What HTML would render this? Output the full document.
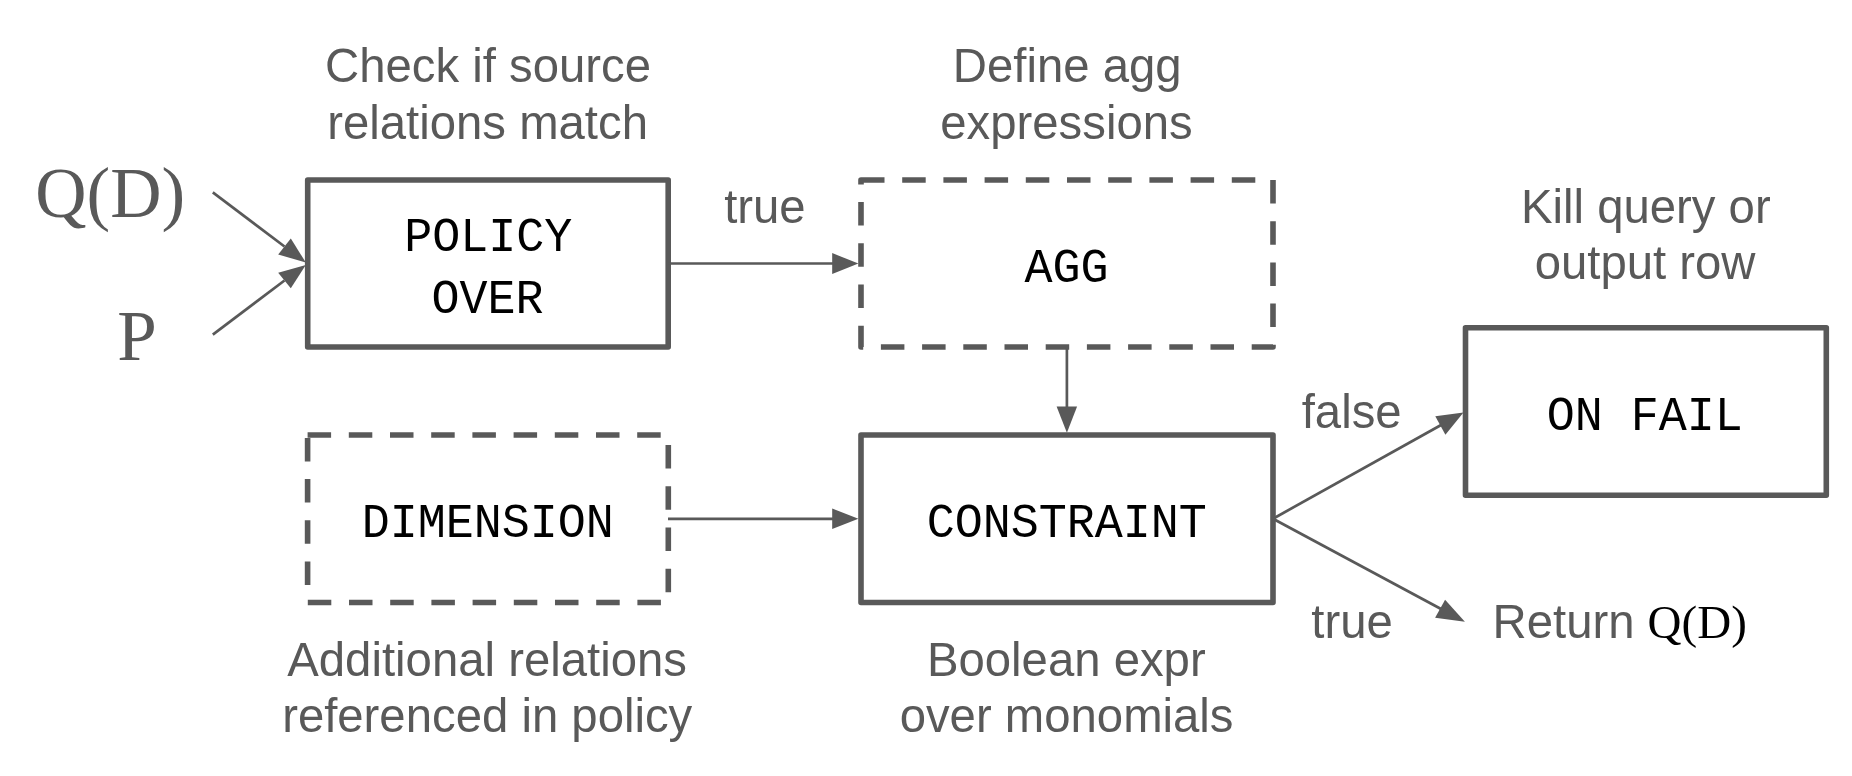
<!DOCTYPE html>
<html><head><meta charset="utf-8">
<style>
html,body{margin:0;padding:0;background:#fff;width:1852px;height:776px;overflow:hidden}
svg{display:block;will-change:transform}
.s{font-family:"Liberation Sans",sans-serif;font-size:47.3px;fill:#595959}
.m{font-family:"Liberation Mono",monospace;font-size:46.7px;fill:#000}
.r{font-family:"Liberation Serif",serif;fill:#595959}
</style></head>
<body>
<svg width="1852" height="776" viewBox="0 0 1852 776">
<rect x="0" y="0" width="1852" height="776" fill="#fff"/>
<g fill="none" stroke="#595959" stroke-width="5.6" stroke-linejoin="round">
  <rect x="307.7" y="180" width="360.5" height="167"/>
  <path d="M861 180H1273V347H861Z" stroke-dasharray="23.5 17.7"/>
  <path d="M307.6 435H668.3V602.5H307.6Z" stroke-dasharray="23.5 17.7"/>
  <rect x="861" y="435" width="412" height="167.5"/>
  <rect x="1465.5" y="327.8" width="360.8" height="167.4"/>
</g>
<g fill="none" stroke="#595959" stroke-width="2.7">
  <path d="M212.8 192.4L284.5 246.5"/>
  <path d="M212.8 334.6L284.5 280.5"/>
  <path d="M668 263.5H834"/>
  <path d="M1066.9 347V408"/>
  <path d="M668 518.85H834"/>
  <path d="M1273 518.7L1442 424.5"/>
  <path d="M1273 518.7L1442 609.5"/>
</g>
<g fill="#595959">
  <path d="M305.8 262.6L278.2 254.5L290.8 238.4Z"/>
  <path d="M305.8 264.9L278.2 272.7L290.8 288.3Z"/>
  <path d="M858.4 263.5L832.2 253.1V273.9Z"/>
  <path d="M1066.9 432.8L1056.6 406.5H1077.1Z"/>
  <path d="M858.4 518.7L832.2 508.4V529Z"/>
  <path d="M1463.5 412.4L1435.3 416.3L1445.4 434.8Z"/>
  <path d="M1464.9 621.8L1435.1 617.7L1445.1 599.7Z"/>
</g>
<g class="s" text-anchor="middle">
  <text x="488.1" y="82.1">Check if source</text>
  <text x="487.6" y="138.9">relations match</text>
  <text x="1067.2" y="81.9">Define agg</text>
  <text x="1066.5" y="138.9">expressions</text>
  <text x="764.9" y="222.8">true</text>
  <text x="1645.8" y="223.3">Kill query or</text>
  <text x="1645.1" y="278.9">output row</text>
  <text x="1351.7" y="427.8">false</text>
  <text x="1352" y="637.8">true</text>
  <text x="487.1" y="676.3">Additional relations</text>
  <text x="487.2" y="731.7">referenced in policy</text>
  <text x="1066.3" y="676">Boolean expr</text>
  <text x="1066.6" y="731.8">over monomials</text>
</g>
<text class="s" x="1492.6" y="638.1">Return</text>
<text class="r" x="35.3" y="216.8" font-size="71">Q(D)</text>
<text class="r" x="117.3" y="359.6" font-size="71">P</text>
<text class="r" x="1647.6" y="638.1" font-size="47" style="fill:#000">Q(D)</text>
<g class="m" text-anchor="middle">
  <text transform="translate(488.3,251.1) scale(1,1.04)">POLICY</text>
  <text transform="translate(487.6,313) scale(1,1.04)">OVER</text>
  <text transform="translate(1066.5,281.9) scale(1,1.04)">AGG</text>
  <text transform="translate(487.7,536.9) scale(1,1.04)">DIMENSION</text>
  <text transform="translate(1066.8,536.9) scale(1,1.04)">CONSTRAINT</text>
  <text transform="translate(1644.8,429.7) scale(1,1.04)">ON FAIL</text>
</g>
</svg>
</body></html>
